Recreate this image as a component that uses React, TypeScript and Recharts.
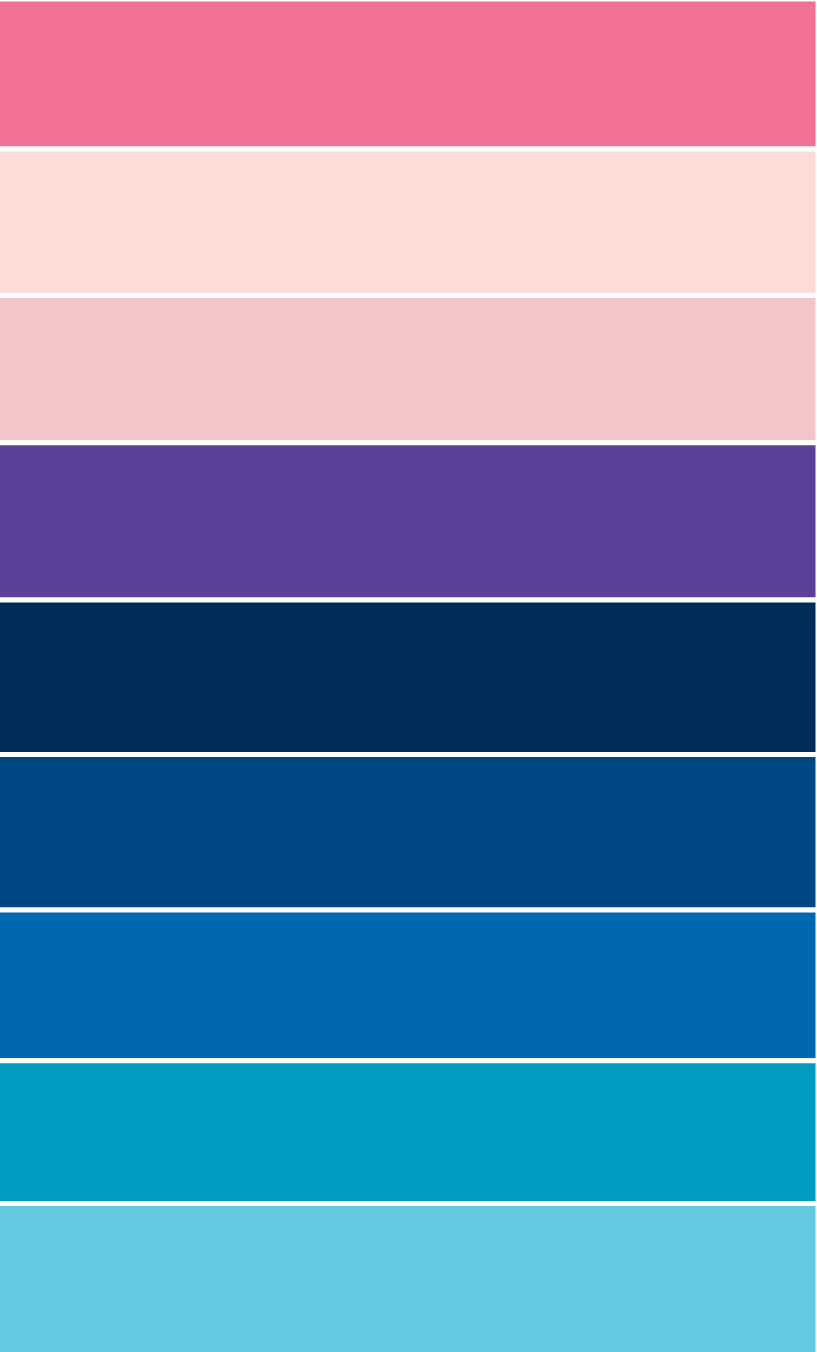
import { BarChart, Bar, XAxis, YAxis } from 'recharts';

// one column, nine stacked bands read top to bottom
const bandNames = ['b1', 'b2', 'b3', 'b4', 'b5', 'b6', 'b7', 'b8', 'b9'];
const bandValues = [150, 146.5, 147.3, 157.2, 154.5, 155.5, 150.8, 142.7, 152];
const bandColors = [
  '#F07194', '#FBDCD7', '#F4C6C9', '#5C3F99', '#002D58',
  '#004884', '#0068B1', '#029CC1', '#63C8E2',
];

const total = bandValues.reduce((a, b) => a + b, 0);

const row: Record<string, number | string> = { name: 'all' };
bandNames.forEach((n, i) => {
  row[n] = bandValues[i];
});
const data = [row];

export default function App() {
  return (
    <div
      style={{
        position: 'absolute',
        left: 0,
        top: 0,
        width: 817,
        height: 1352,
        overflow: 'hidden',
        background: '#fff',
      }}
    >
      <div style={{ position: 'absolute', left: -10, top: -1.5 }}>
        <BarChart
          width={828}
          height={total}
          data={data}
          margin={{ top: 0, right: 0, bottom: 0, left: 0 }}
          barCategoryGap={0}
        >
          <XAxis dataKey="name" hide />
          <YAxis hide reversed domain={[0, total]} />
          {bandNames.map((n, i) => (
            <Bar
              key={n}
              dataKey={n}
              stackId="s"
              fill={bandColors[i]}
              stroke="#fff"
              strokeWidth={5}
              isAnimationActive={false}
            />
          ))}
        </BarChart>
      </div>
    </div>
  );
}
